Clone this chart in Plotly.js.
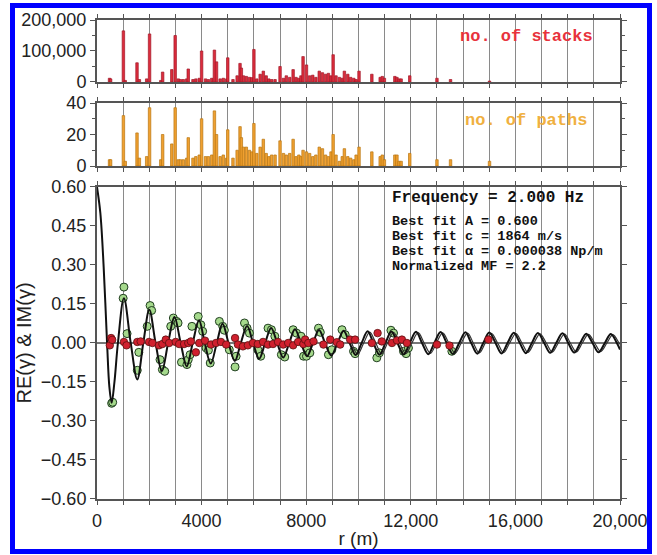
<!DOCTYPE html>
<html>
<head>
<meta charset="utf-8">
<script src="https://cdn.plot.ly/plotly-3.0.1.min.js"></script>
<style>
html,body{margin:0;padding:0;background:#fff;}
#chart{position:absolute;left:0;top:0;width:657px;height:555px;}
#frame{position:absolute;left:10px;top:3px;width:642px;height:551px;border:5px solid #0000ff;box-sizing:border-box;pointer-events:none;}
</style>
</head>
<body>
<div id="chart"></div>
<div id="frame"></div>
<script>
// ---- histogram bins (distance, m) ----
const binR = [480,520,1010,1080,1530,1620,1900,2010,2440,2510,2860,2990,3110,3190,3300,3430,3490,3670,3780,3910,4000,4150,4260,4390,4490,4570,4710,4830,4960,5000,5200,5360,5470,5520,5600,5710,5830,5920,6000,6110,6240,6360,6470,6570,6680,6810,7000,7130,7240,7370,7500,7610,7720,7800,7880,8010,8130,8250,8370,8500,8620,8740,8850,8950,9030,9140,9270,9380,9460,9590,9700,9820,9910,10020,10510,10830,10910,10990,11390,11470,11550,11630,11960,13000,13520,15010];
const stacks = [12000,10000,165000,5000,62000,8000,10000,155000,5000,32000,40000,150000,10000,8000,8000,10000,42000,8000,10000,12000,100000,10000,8000,12000,103000,65000,10000,12000,10000,78000,8000,20000,60000,45000,20000,18000,15000,14000,105000,10000,25000,35000,20000,10000,8000,8000,50000,12000,20000,15000,40000,15000,12000,20000,82000,55000,20000,22000,15000,35000,30000,25000,28000,20000,88000,20000,15000,12000,35000,25000,15000,12000,8000,35000,25000,15000,18000,12000,18000,15000,10000,10000,20000,12000,8000,3000];
const paths = [4,4,32,3,21,5,6,37,4,20,14,37,4,4,4,5,18,5,6,7,30,6,6,7,35,20,6,7,5,23,5,10,25,18,12,12,10,9,27,8,12,17,8,6,7,7,16,8,7,8,17,6,7,6,10,9,8,6,7,12,11,7,6,9,20,7,3,6,11,6,5,4,7,12,9,6,7,4,7,7,3,3,8,4,4,3];

// ---- best-fit curve ----
const fitR = [0,128,256,385,474,560,667,800,1030,1290,1540,1770,2000,2240,2480,2720,2960,3200,3430,3660,3900,4120,4350,4580,4800,5030,5270,5500,5740,5970,6200,6430,6660,6890,7120,7350,7570,7800,8030,8260,8490,8720,8960,9200,9430,9660,9890,10120,10350,10570,10800,11030,11260,11490,11730,11960,12200,12430,12670,12900,13140,13370,13610,13850,14090,14310,14540,14770,15000,15240,15470,15700,15940,16170,16400,16630,16860,17100,17330,17560,17800,18020,18250,18480,18710,18950,19180,19420,19650,19880,20000];
const fitV = [0.60,0.50,0.29,0.0,-0.17,-0.23,-0.15,0.0,0.172,0.0,-0.140,0.0,0.128,0.0,-0.108,0.0,0.100,0.0,-0.090,0.0,0.087,0.0,-0.079,0.0,0.074,0.0,-0.069,0.0,0.065,0.0,-0.061,0.0,0.058,0.0,-0.056,0.0,0.053,0.0,-0.051,0.0,0.050,0.0,-0.048,0.0,0.047,0.0,-0.046,0.0,0.045,0.0,-0.045,0.0,0.044,0.0,-0.044,0.0,0.043,0.0,-0.043,0.0,0.042,0.0,-0.042,0.0,0.041,0.0,-0.041,0.0,0.040,0.0,-0.040,0.0,0.039,0.0,-0.039,0.0,0.038,0.0,-0.038,0.0,0.037,0.0,-0.037,0.0,0.036,0.0,-0.036,0.0,0.035,0.0,-0.025];

// ---- second (thin) model curve seen at long range ----
const fit2R = [9740,9970,10200,10430,10660,10880,11110,11340,11570,11810,12040,12280,12510,12750,12980,13220,13450,13690,13930,14170,14390,14620,14850,15080,15320,15550,15780,16020,16250,16480,16710,16940,17180,17410,17640,17880,18100,18330,18560,18790,19030,19260,19500,19730,19960,20000];
const fit2V = [0.0,-0.043,0.0,0.042,0.0,-0.042,0.0,0.041,0.0,-0.041,0.0,0.040,0.0,-0.040,0.0,0.039,0.0,-0.039,0.0,0.038,0.0,-0.038,0.0,0.037,0.0,-0.037,0.0,0.036,0.0,-0.036,0.0,0.035,0.0,-0.035,0.0,0.034,0.0,-0.034,0.0,0.033,0.0,-0.033,0.0,0.032,0.0,-0.005];

// ---- measured RE(gamma) (green) ----
const reR = [560,600,1000,1030,1150,1540,1600,1920,2030,2090,2410,2500,2590,2820,2920,3050,3100,3230,3440,3490,3560,3630,3870,3970,4040,4170,4260,4330,4680,4810,4870,5060,5280,5320,5640,5740,5830,6150,6260,6540,6670,6800,7050,7180,7500,7630,7800,7900,8010,8030,8140,8470,8540,8850,8980,9370,9490,9810,9870,10700,10800,11240,11340,11720,11820,11910,13570];
const reV = [-0.232,-0.228,0.172,0.215,0.036,-0.105,-0.036,0.064,0.144,0.125,-0.064,-0.102,-0.109,0.064,0.096,0.083,0.077,-0.074,-0.083,-0.064,-0.045,0.064,0.102,0.070,0.045,-0.019,-0.028,-0.077,0.083,0.064,0.049,-0.026,-0.092,-0.051,0.077,0.057,0.038,-0.026,-0.051,0.057,0.051,0.026,-0.045,-0.054,0.051,0.038,0.026,-0.051,-0.051,-0.019,-0.038,0.057,0.041,-0.045,-0.026,0.051,0.032,-0.032,-0.041,-0.057,-0.038,0.049,0.038,-0.032,-0.041,-0.019,-0.032];

// ---- measured IM(gamma) (red) ----
const imR = [490,540,580,1030,1130,1540,1670,1990,2120,2370,2500,2630,2760,3010,3140,3330,3490,3590,3780,3910,4130,4360,4550,4740,4940,5280,5390,5580,5770,5960,6150,6350,6540,6730,6920,7120,7310,7500,7690,7890,7960,8080,8280,8660,8920,9170,9300,9680,9870,10510,10730,10890,11280,11470,11660,11850,13000,13480,14970];
const imV = [-0.009,0.019,0.012,0.004,-0.009,0.004,0.006,0.004,0.0,-0.009,-0.004,0.013,0.0,0.004,-0.004,-0.004,0.0,0.006,-0.036,0.0,0.009,-0.006,0.0,0.004,-0.006,0.019,-0.006,-0.013,-0.009,0.0,-0.004,0.004,-0.006,-0.004,0.004,-0.006,0.0,-0.009,0.004,-0.004,0.013,0.0,0.006,-0.006,0.013,0.003,-0.006,0.013,0.013,0.0,0.038,0.006,0.0,0.010,0.013,0.0,-0.006,-0.010,0.013];

const xTickVals = [0,1000,2000,3000,4000,5000,6000,7000,8000,9000,10000,11000,12000,13000,14000,15000,16000,17000,18000,19000,20000];
const xTickText = ['0','','','','4000','','','','8000','','','','12,000','','','','16,000','','','','20,000'];

const labelFont = {family:'Liberation Sans, Arial, sans-serif', size:18, color:'#222'};
const monoFont = 'Liberation Mono, Courier New, monospace';

const traces = [
  {type:'bar', x:binR, y:stacks, xaxis:'x', yaxis:'y', width:95,
   marker:{color:'#dc2c3c', line:{color:'#a01828', width:0.7}}, hoverinfo:'skip'},
  {type:'bar', x:binR, y:paths, xaxis:'x2', yaxis:'y2', width:95,
   marker:{color:'#f0a030', line:{color:'#b87510', width:0.7}}, hoverinfo:'skip'},
  {type:'scatter', mode:'markers', x:reR, y:reV, xaxis:'x3', yaxis:'y3',
   marker:{size:8, color:'#a5d98c', line:{color:'#1f3d1f', width:1}}},
  {type:'scatter', mode:'lines', x:fit2R, y:fit2V, xaxis:'x3', yaxis:'y3',
   line:{color:'#333', width:1.2, shape:'spline', smoothing:1}},
  {type:'scatter', mode:'lines', x:fitR, y:fitV, xaxis:'x3', yaxis:'y3',
   line:{color:'#111', width:2, shape:'spline', smoothing:1}},
  {type:'scatter', mode:'markers', x:imR, y:imV, xaxis:'x3', yaxis:'y3',
   marker:{size:7.5, color:'#d0202e', line:{color:'#5a1010', width:0.8}}}
];

function xa(anchor, labels){
  return {domain:[0,1], range:[0,20000], anchor:anchor,
    tickmode:'array', tickvals:xTickVals, ticktext:xTickText,
    showticklabels:labels, ticks:'outside', ticklen:4, tickcolor:'#555', tickwidth:1,
    showgrid:true, gridcolor:'#8a8a8a', gridwidth:1,
    showline:true, linecolor:'#555', linewidth:2, mirror:'ticks',
    zeroline:false, tickfont:labelFont};
}

const layout = {
  width:657, height:555,
  margin:{l:97, r:37, t:20, b:56},
  paper_bgcolor:'#fff', plot_bgcolor:'#fff',
  showlegend:false, bargap:0,
  xaxis: xa('y', false),
  xaxis2: xa('y2', false),
  xaxis3: Object.assign(xa('y3', true), {title:{text:'r (m)', font:{family:'Liberation Sans, Arial, sans-serif', size:19, color:'#222'}, standoff:2}}),
  yaxis: {domain:[0.8706,1], range:[0,200000], tickvals:[0,100000,200000], ticktext:['0','100,000','200,000'],
    ticks:'outside', ticklen:5, tickcolor:'#555', showline:true, linecolor:'#555', linewidth:2, mirror:'ticks',
    showgrid:false, zeroline:false, tickfont:labelFont,
    minor:{tickvals:[50000,150000], ticks:'outside', ticklen:3, tickcolor:'#555'}},
  yaxis2: {domain:[0.6952,0.8267], range:[0,40], tickvals:[0,20,40],
    ticks:'outside', ticklen:5, tickcolor:'#555', showline:true, linecolor:'#555', linewidth:2, mirror:'ticks',
    showgrid:false, zeroline:false, tickfont:labelFont,
    minor:{tickvals:[10,30], ticks:'outside', ticklen:3, tickcolor:'#555'}},
  yaxis3: {domain:[0,0.6514], range:[-0.6,0.6], tickvals:[-0.6,-0.45,-0.3,-0.15,0,0.15,0.3,0.45,0.6],
    tickformat:'.2f',
    ticks:'outside', ticklen:5, tickcolor:'#555', showline:true, linecolor:'#555', linewidth:2, mirror:'ticks',
    showgrid:false, zeroline:true, zerolinecolor:'#777', zerolinewidth:1.5, tickfont:labelFont,
    title:{text:'RE(γ) & IM(γ)', font:{family:'Liberation Sans, Arial, sans-serif', size:20, color:'#222'}, standoff:4}},
  annotations:[
    {xref:'paper', yref:'paper', x:0.952, y:0.965, xanchor:'right', yanchor:'middle', showarrow:false,
     text:'<b>no. of stacks</b>', font:{family:monoFont, size:17, color:'#e8323c'}},
    {xref:'paper', yref:'paper', x:0.940, y:0.790, xanchor:'right', yanchor:'middle', showarrow:false,
     text:'<b>no. of paths</b>', font:{family:monoFont, size:17, color:'#f0b040'}},
    {xref:'paper', yref:'paper', x:0.561, y:0.628, xanchor:'left', yanchor:'middle', showarrow:false,
     text:'<b>Frequency = 2.000 Hz</b>', font:{family:monoFont, size:16, color:'#111'}},
    {xref:'paper', yref:'paper', x:0.561, y:0.5793, xanchor:'left', yanchor:'middle', showarrow:false,
     text:'<b>Best fit A = 0.600</b>', font:{family:monoFont, size:13.5, color:'#111'}},
    {xref:'paper', yref:'paper', x:0.561, y:0.5480, xanchor:'left', yanchor:'middle', showarrow:false,
     text:'<b>Best fit c = 1864 m/s</b>', font:{family:monoFont, size:13.5, color:'#111'}},
    {xref:'paper', yref:'paper', x:0.561, y:0.5167, xanchor:'left', yanchor:'middle', showarrow:false,
     text:'<b>Best fit α = 0.000038 Np/m</b>', font:{family:monoFont, size:13.5, color:'#111'}},
    {xref:'paper', yref:'paper', x:0.561, y:0.4854, xanchor:'left', yanchor:'middle', showarrow:false,
     text:'<b>Normalized MF = 2.2</b>', font:{family:monoFont, size:13.5, color:'#111'}}
  ]
};

Plotly.newPlot('chart', traces, layout, {staticPlot:true, displayModeBar:false});
</script>
</body>
</html>
